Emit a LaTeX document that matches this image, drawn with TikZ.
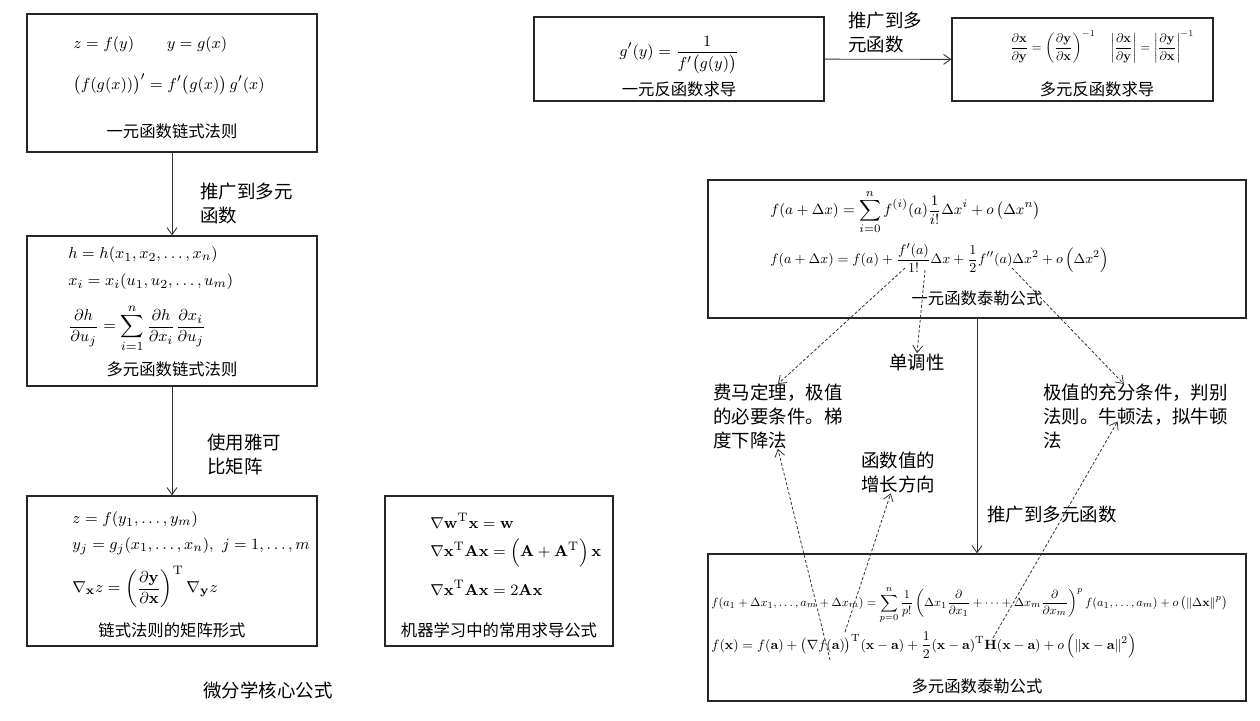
\documentclass[tikz,border=0pt]{standalone}
\usepackage{amsmath}
\usepackage[no-math]{fontspec}
\newfontfamily\cjk{Noto Sans CJK SC}
\usetikzlibrary{arrows.meta,calc}

\newlength{\du}
\setlength{\du}{0.02cm}
\newcommand{\fitw}[2]{\resizebox{#1\du}{!}{#2}}

\tikzset{
  framebox/.style={draw=black!85, line width=1.3\du, fill=white, inner sep=0pt},
  formula/.style={anchor=west, inner sep=0pt, font=\fontsize{9.3}{11}\selectfont},
  caption/.style={inner sep=0pt, font=\cjk\fontsize{9.3}{11}\selectfont},
  note/.style={inner sep=0pt, align=left, anchor=north west, font=\cjk\fontsize{10.5}{13.4}\selectfont},
  flow/.style={-{Straight Barb[length=4pt,width=5.7pt]}, draw=black!80, line width=0.9\du},
  hint/.style={-{Straight Barb[length=4pt,width=5.7pt]}, draw=black!80, line width=0.8\du, dash pattern=on 3\du off 2\du}
}

\begin{document}
\begin{tikzpicture}
\pgftransformxscale{1.000000}
\pgftransformyscale{-1.000000}
\useasboundingbox (0\du,0\du) rectangle (1260\du,720\du);

% left column: chain rules
\node[framebox, minimum width=290\du, minimum height=138\du] (chainone) at (172\du,83\du) {};
\node[formula] (chainone-a) at (73\du,45\du) {$z=f(y)\qquad y=g(x)$};
\node[formula] (chainone-b) at (73\du,84\du) {$\bigl(f(g(x))\bigr)'=f'\bigl(g(x)\bigr)\,g'(x)$};
\node[caption] (chainone-cap) at (172\du,131\du) {一元函数链式法则};

\node[framebox, minimum width=290\du, minimum height=150\du] (chainmulti) at (172\du,311\du) {};
\node[formula] (chainmulti-a) at (68\du,255\du) {$h=h(x_1,x_2,\dots,x_n)$};
\node[formula] (chainmulti-b) at (68\du,282\du) {$x_i=x_i(u_1,u_2,\dots,u_m)$};
\node[formula] (chainmulti-c) at (68\du,328\du) {$\dfrac{\partial h}{\partial u_j}=\displaystyle\sum_{i=1}^{n}\frac{\partial h}{\partial x_i}\frac{\partial x_i}{\partial u_j}$};
\node[caption] (chainmulti-cap) at (172\du,369\du) {多元函数链式法则};

\node[framebox, minimum width=290\du, minimum height=150\du] (chainmatrix) at (172\du,571\du) {};
\node[formula] (chainmatrix-a) at (72\du,520\du) {$z=f(y_1,\dots,y_m)$};
\node[formula] (chainmatrix-b) at (72\du,546\du) {$y_j=g_j(x_1,\dots,x_n),\ j=1,\dots,m$};
\node[formula] (chainmatrix-c) at (72\du,587\du) {$\nabla_{\mathbf{x}}z=\left(\dfrac{\partial\mathbf{y}}{\partial\mathbf{x}}\right)^{\mathrm{T}}\nabla_{\mathbf{y}}z$};
\node[caption] (chainmatrix-cap) at (172\du,630\du) {链式法则的矩阵形式};

\node[framebox, minimum width=228\du, minimum height=150\du] (mlformulas) at (499\du,571\du) {};
\node[formula] (mlformulas-a) at (430\du,521\du) {$\nabla\mathbf{w}^{\mathrm{T}}\mathbf{x}=\mathbf{w}$};
\node[formula] (mlformulas-b) at (430\du,553\du) {$\nabla\mathbf{x}^{\mathrm{T}}\mathbf{A}\mathbf{x}=\left(\mathbf{A}+\mathbf{A}^{\mathrm{T}}\right)\mathbf{x}$};
\node[formula] (mlformulas-c) at (430\du,588\du) {$\nabla\mathbf{x}^{\mathrm{T}}\mathbf{A}\mathbf{x}=2\mathbf{A}\mathbf{x}$};
\node[caption] (mlformulas-cap) at (499\du,630\du) {机器学习中的常用求导公式};

\draw[flow] (chainone) -- (chainmulti);
\node[note] (lbl-multi) at (200\du,183\du) {推广到多元\\函数};
\draw[flow] (chainmulti) -- (chainmatrix);
\node[note] (lbl-jacobi) at (207\du,434\du) {使用雅可\\比矩阵};

\node[inner sep=0pt, font=\cjk\fontsize{10.5}{13}\selectfont] (title) at (268\du,690\du) {微分学核心公式};

% top right: inverse functions
\node[framebox, minimum width=290\du, minimum height=84\du] (invone) at (679\du,59\du) {};
\node[inner sep=0pt, font=\fontsize{9.3}{11}\selectfont] (invone-a) at (679\du,55\du) {$g'(y)=\dfrac{1}{f'\bigl(g(y)\bigr)}$};
\node[caption] (invone-cap) at (679\du,89\du) {一元反函数求导};

\node[framebox, minimum width=261\du, minimum height=83\du] (invmulti) at (1082.5\du,59.5\du) {};
\node[inner sep=0pt] (invmulti-a) at (1102\du,47\du) {\fitw{184}{$\dfrac{\partial\mathbf{x}}{\partial\mathbf{y}}=\left(\dfrac{\partial\mathbf{y}}{\partial\mathbf{x}}\right)^{-1}\quad\left|\dfrac{\partial\mathbf{x}}{\partial\mathbf{y}}\right|=\left|\dfrac{\partial\mathbf{y}}{\partial\mathbf{x}}\right|^{-1}$}};
\node[caption] (invmulti-cap) at (1097\du,89\du) {多元反函数求导};

\draw[flow] (invone) -- (invmulti);
\node[note] (lbl-inv) at (848\du,12\du) {推广到多\\元函数};

% right: Taylor
\node[framebox, minimum width=538\du, minimum height=138\du] (taylorone) at (977\du,249\du) {};
\node[formula] (taylorone-a) at (770\du,212\du) {\fitw{270}{$f(a+\Delta x)=\displaystyle\sum_{i=0}^{n}f^{(i)}(a)\frac{1}{i!}\Delta x^{i}+o\left(\Delta x^{n}\right)$}};
\node[formula] (taylorone-b) at (770\du,258\du) {\fitw{338}{$f(a+\Delta x)=f(a)+\dfrac{f'(a)}{1!}\Delta x+\dfrac{1}{2}f''(a)\Delta x^{2}+o\left(\Delta x^{2}\right)$}};
\node[caption] (taylorone-cap) at (977\du,298\du) {一元函数泰勒公式};

\node[framebox, minimum width=538\du, minimum height=147\du] (taylormulti) at (977\du,627.5\du) {};
\node[formula] (taylormulti-a) at (711\du,605\du) {\fitw{516}{$f(a_1+\Delta x_1,\dots,a_m+\Delta x_m)=\displaystyle\sum_{p=0}^{n}\frac{1}{p!}\left(\Delta x_1\frac{\partial}{\partial x_1}+\dots+\Delta x_m\frac{\partial}{\partial x_m}\right)^{p}f(a_1,\dots,a_m)+o\left(\|\Delta\mathbf{x}\|^{p}\right)$}};
\node[formula] (taylormulti-b) at (711\du,645\du) {\fitw{425}{$f(\mathbf{x})=f(\mathbf{a})+\bigl(\nabla f(\mathbf{a})\bigr)^{\mathrm{T}}(\mathbf{x}-\mathbf{a})+\dfrac{1}{2}(\mathbf{x}-\mathbf{a})^{\mathrm{T}}\mathbf{H}(\mathbf{x}-\mathbf{a})+o\left(\|\mathbf{x}-\mathbf{a}\|^{2}\right)$}};
\node[caption] (taylormulti-cap) at (977\du,686\du) {多元函数泰勒公式};

\draw[flow] (taylorone) -- (taylormulti);
\node[note, anchor=west] (lbl-taylor) at (987\du,515\du) {推广到多元函数};

% uses of the Taylor formulas
\node[note] (fermat) at (713\du,384\du) {费马定理，极值\\的必要条件。梯\\度下降法};
\node[note, anchor=center] (mono) at (917\du,362\du) {单调性};
\node[note] (suff) at (1043\du,384\du) {极值的充分条件，判别\\法则。牛顿法，拟牛顿\\法};
\node[note] (growth) at (861\du,452\du) {函数值的\\增长方向};

\coordinate (from-fermat) at (905\du,268\du);
\coordinate (from-mono) at (925\du,270\du);
\coordinate (from-suff) at (1012\du,268\du);
\coordinate (from-grad) at (830\du,660\du);
\coordinate (from-growth) at (845\du,632\du);
\coordinate (from-hess) at (993\du,638\du);

\draw[hint] (from-fermat) -- (fermat.north);
\draw[hint] (from-mono) -- (mono.north);
\draw[hint] (from-suff) -- (suff.110);
\draw[hint] (from-grad) -- (fermat.south);
\draw[hint] (from-growth) -- (growth.250);
\draw[hint] (from-hess) -- ($(suff.center)+(-18\du,5\du)$);
\end{tikzpicture}
\end{document}
